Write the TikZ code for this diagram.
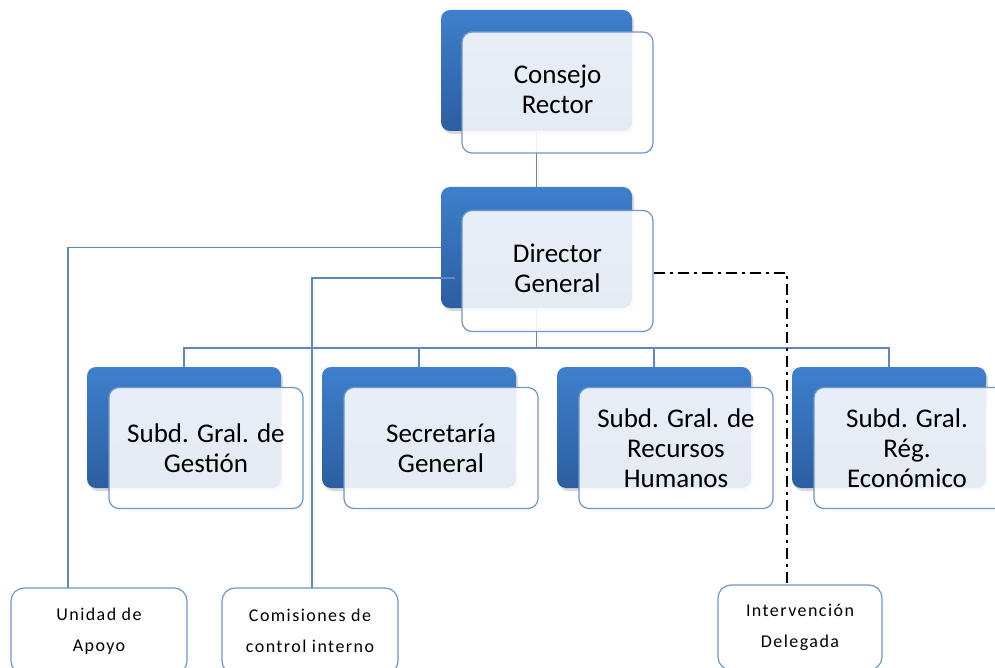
\documentclass[tikz,border=0pt]{standalone}
\usepackage{fontspec}
\setmainfont{Carlito}
\newfontfamily\smallfont[LetterSpace=8]{Carlito}
\usetikzlibrary{shadows,calc}
\definecolor{boxblueT}{RGB}{62,127,204}
\definecolor{boxblueB}{RGB}{44,94,160}
\definecolor{edgeblue}{RGB}{110,150,205}
\definecolor{lineblue}{RGB}{95,135,195}
\begin{document}
\begin{tikzpicture}[x=1pt,y=1pt,
  backbox/.style={rectangle, rounded corners=9pt, minimum width=#1, minimum height=121pt,
    top color=boxblueT, bottom color=boxblueB, draw=none,
    drop shadow={opacity=0.3, shadow xshift=2pt, shadow yshift=-3pt}},
  frontbox/.style={rectangle, rounded corners=10pt, minimum width=#1, minimum height=121pt,
    draw=edgeblue, line width=1.2pt, fill=white, fill opacity=0.88, text opacity=1,
    align=center, text=black, font=\fontsize{27}{30}\selectfont},
  smallbox/.style={rectangle, rounded corners=13pt, draw=edgeblue, line width=1.2pt,
    fill=white, align=center, text=black, font=\smallfont\fontsize{18}{31}\selectfont},
  conn/.style={draw=lineblue, line width=1.4pt},
  dashdot/.style={draw=black, line width=2.8pt, dash pattern=on 11pt off 5pt on 3pt off 5pt}
]
\useasboundingbox (0,0) rectangle (995,-668);
\clip (0,0) rectangle (995,-668);

% back boxes
\node[backbox=191pt] (crB) at (536.5,-70.5) {};
\node[backbox=191pt] (dgB) at (536.5,-247.5) {};
\node[backbox=194pt] (s1B) at (184,-427.5) {};
\node[backbox=194pt] (s2B) at (419,-427.5) {};
\node[backbox=194pt] (s3B) at (654,-427.5) {};
\node[backbox=194pt] (s4B) at (889,-427.5) {};

% bottom boxes
\node[smallbox, minimum width=176pt, minimum height=86pt] (unid) at (99,-631) {Unidad de\\Apoyo};
\node[smallbox, minimum width=176pt, minimum height=86pt] (com) at (310,-631) {Comisiones de\\control interno};
\node[smallbox, minimum width=164pt, minimum height=85pt] (int) at (800,-627.5) {Intervención\\Delegada};

% helper coordinates
\coordinate (bus) at (536.5,-348);
\coordinate (ua) at (68,-588);
\coordinate (dgin) at (455,-278);
\coordinate (ca) at (312,-588);
\coordinate (ia) at (787,-585);

% connectors
\draw[conn] (crB.south) -- (dgB.north);
\draw[conn] (dgB.south) -- (bus);
\foreach \s in {s1B,s2B,s3B,s4B} \draw[conn] (bus) -| (\s.north);
\draw[conn] (dgB.west) -| (ua);
\draw[conn] (dgin) -| (ca);

% front boxes
\node[frontbox=191pt] (crW) at (557.5,-92.5) {\raisebox{3pt}{\begin{tabular}{@{}c@{}}Consejo\\Rector\end{tabular}}};
\node[frontbox=191pt] (dgW) at (557.5,-271) {\raisebox{3pt}{\begin{tabular}{@{}c@{}}Director\\General\end{tabular}}};
\node[frontbox=194pt] (s1W) at (206,-448) {Subd. Gral. de\\Gestión};
\node[frontbox=194pt] (s2W) at (441,-448) {Secretaría\\General};
\node[frontbox=194pt] (s3W) at (676,-448) {Subd. Gral. de\\Recursos\\Humanos};
\node[frontbox=194pt] (s4W) at (911,-448) {\hspace*{-8pt}Subd. Gral.\\\hspace*{-8pt}Rég.\\\hspace*{-8pt}Económico};

% dash-dot link
\draw[dashdot] ([yshift=-2pt]dgW.east) -| (ia);
\end{tikzpicture}
\end{document}
